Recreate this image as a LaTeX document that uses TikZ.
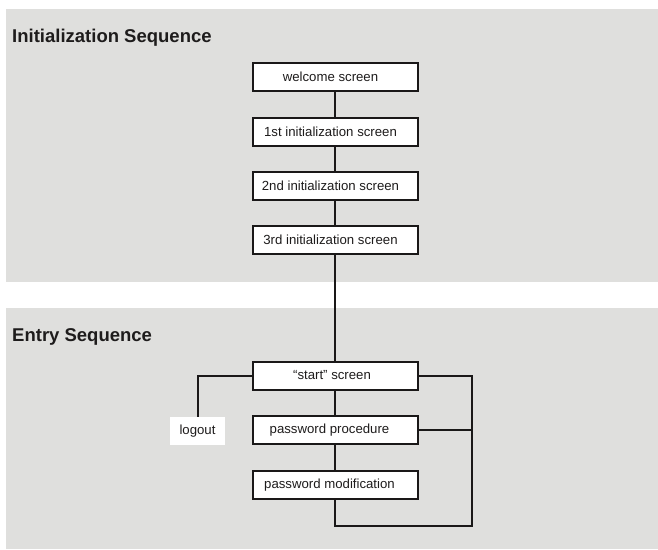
\documentclass[tikz,border=0pt]{standalone}
\usepackage{fontspec}
\setmainfont{Liberation Sans}
\newcommand{\txleftshift}[1]{\hspace*{-#1}}
\begin{document}
\begin{tikzpicture}[x=1pt,y=-1pt,
  panel/.style={fill=panelgray,draw=none},
  scr/.style={draw=linecol,line width=2pt,fill=white,minimum width=165pt,minimum height=28pt,inner sep=0pt,font=\fontsize{13.2}{15}\selectfont,text=textcol},
  plain/.style={fill=white,draw=none,minimum width=55pt,minimum height=28pt,inner sep=0pt,font=\fontsize{13.2}{15}\selectfont,text=textcol},
  conn/.style={draw=linecol,line width=2pt},
  ttl/.style={anchor=base west,inner sep=0pt,font=\fontsize{18.5}{22}\selectfont\bfseries,text=textcol}]
\definecolor{panelgray}{RGB}{223,223,221}
\definecolor{linecol}{RGB}{26,24,24}
\definecolor{textcol}{RGB}{30,28,28}
\useasboundingbox (0,0) rectangle (658,549);
\fill[white] (0,0) rectangle (658,549);
\fill[panel] (6,9) rectangle (658,281.7);
\fill[panel] (6,307.5) rectangle (658,549);
\node[ttl] (t1) at (12,42) {Initialization Sequence};
\node[ttl] (t2) at (12,341) {Entry Sequence};
% init chain
\node[scr] (w) at (335,77) {\txleftshift{9pt}welcome screen};
\node[scr] (i1) at (335,131.5) {\txleftshift{9pt}1st initialization screen};
\node[scr] (i2) at (335,186) {\txleftshift{9pt}2nd initialization screen};
\node[scr] (i3) at (335,240) {\txleftshift{9pt}3rd initialization screen};
% entry
\node[scr] (st) at (335,375.5) {\txleftshift{6pt}``start'' screen};
\node[scr] (pp) at (335,430) {\txleftshift{11pt}password procedure};
\node[scr] (pm) at (335,485) {\txleftshift{11pt}password modification};
\node[plain] (lo) at (197.5,431) {logout};
\coordinate (rt) at (472,375.5);
\coordinate (rb) at (472,526);
\coordinate (bb) at (335,526);
\coordinate (lt) at (198,375.5);
\draw[conn] (w) -- (i1);
\draw[conn] (i1) -- (i2);
\draw[conn] (i2) -- (i3);
\draw[conn] (i3) -- (st);
\draw[conn] (st) -- (pp);
\draw[conn] (pp) -- (pm);
\draw[conn] (st.west) -- (lt) -- (lo.north -| lt);
\draw[conn,line cap=rect] (st.east) -- (rt) -- (rb) -- (bb) -- (pm.south);
\draw[conn,line width=2.6pt] (pp.east) -- (pp.east -| rt);
\end{tikzpicture}
\end{document}
